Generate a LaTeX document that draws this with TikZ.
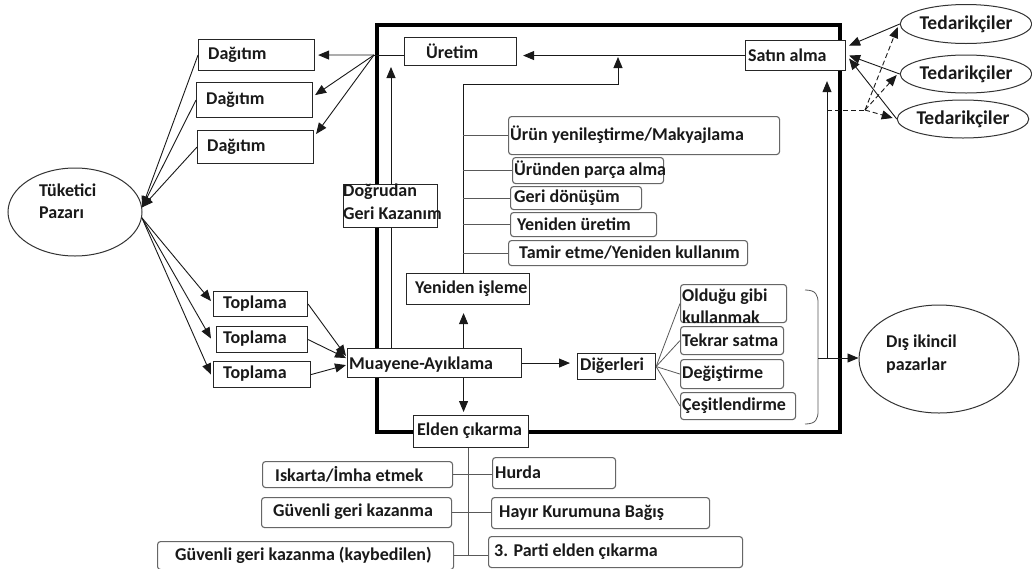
\documentclass[tikz,border=0pt]{standalone}
\usepackage{fontspec}
\setmainfont{Carlito}
\usetikzlibrary{shapes.geometric,arrows.meta,calc}
\pgfdeclarelayer{bg}
\pgfsetlayers{bg,main}
\newcommand\mkbox[9][sqbox]{%
  \pgfmathsetmacro\bxw{#5-#3}%
  \pgfmathsetmacro\bxh{#6-#4}%
  \pgfmathsetmacro\bxm{(#4+#6)/2+#8}%
  \pgfmathsetmacro\bxl{#3+#7}%
  \node[#1, anchor=north west, minimum width=\bxw pt, minimum height=\bxh pt] (#2) at (#3,#4) {};
  \node[txt, anchor=west] (#2-t) at (\bxl,\bxm) {#9};}
\newcommand\bigtxt{\fontsize{19.5}{23}\selectfont}
\tikzset{
  tfont/.style={font=\fontsize{18}{22.5}\selectfont\bfseries, text=black!90},
  sqbox/.style={draw=black!85, line width=1.1pt, fill=white, inner sep=0pt},
  rdbox/.style={draw=black!60, line width=1.1pt, fill=white, rounded corners=3pt, inner sep=0pt},
  txt/.style={tfont, inner sep=0pt, align=left},
  conn/.style={line width=0.9pt, draw=black!90},
  arr/.style={conn, -{Triangle[length=11pt,width=9pt]}},
  treeline/.style={line width=0.8pt, draw=black!65},
  oval/.style={ellipse, draw=black!80, line width=1pt, fill=white, inner sep=0pt},
  outerframe/.style={line width=3.2pt, draw=black},
}
\begin{document}
\begin{tikzpicture}[x=1pt,y=-1pt]
\useasboundingbox (0,0) rectangle (1032,568);
% boxes
\mkbox{dag1}{198}{39}{314}{70}{10}{0}{Dağıtım}
\mkbox{dag2}{196}{82}{312}{117}{10}{0}{Dağıtım}
\mkbox{dag3}{197}{130}{313}{163}{10}{0}{Dağıtım}
\mkbox{top1}{213}{291}{307}{316}{10}{0}{Toplama}
\mkbox{top2}{216}{326}{307}{352}{7}{0}{Toplama}
\mkbox{top3}{213}{361}{310}{387}{10}{0}{Toplama}
\mkbox{uretim}{404}{37}{516}{65}{22}{0}{Üretim}
\mkbox{satin}{745}{40}{845}{70}{3}{0}{Satın alma}
\mkbox{dogrudan}{343}{184}{437}{227}{0}{-4}{Doğrudan\\Geri Kazanım}
\mkbox{yenisleme}{406}{273}{529}{304}{9}{0}{Yeniden işleme}
\mkbox{muayene}{347}{348}{521}{377}{2}{2}{Muayene-Ayıklama}
\mkbox{elden}{413}{415}{528}{447}{4}{0}{Elden çıkarma}
\mkbox{diger}{577}{353}{655}{379}{3}{0}{Diğerleri}
\mkbox[rdbox]{p1}{508}{116}{779}{154}{2}{0}{Ürün yenileştirme/Makyajlama}
\mkbox[rdbox]{p2}{512}{157}{663}{183}{2}{0}{Üründen parça alma}
\mkbox[rdbox]{p3}{510}{186}{641}{209}{4}{0}{Geri dönüşüm}
\mkbox[rdbox]{p4}{510}{212}{656}{236}{7}{0}{Yeniden üretim}
\mkbox[rdbox]{p5}{508}{240}{747}{265}{11}{0}{Tamir etme/Yeniden kullanım}
\mkbox[rdbox]{o1}{680}{284}{786}{322}{2}{3}{Olduğu gibi\\kullanmak}
\mkbox[rdbox]{o2}{680}{326}{783}{354}{2}{0}{Tekrar satma}
\mkbox[rdbox]{o3}{680}{359}{783}{388}{2}{0}{Değiştirme}
\mkbox[rdbox]{o4}{680}{392}{795}{419}{2}{0}{Çeşitlendirme}
\mkbox[rdbox]{d1}{262}{461}{452}{487}{13}{0}{Iskarta/İmha etmek}
\mkbox[rdbox]{d2}{261}{497}{451}{527}{12}{0}{Güvenli geri kazanma}
\mkbox[rdbox]{d3}{157}{541}{453}{569}{18}{0}{Güvenli geri kazanma (kaybedilen)}
\mkbox[rdbox]{h1}{492}{457}{615}{488}{3}{0}{Hurda}
\mkbox[rdbox]{h2}{491}{497}{709}{528}{8}{0}{Hayır Kurumuna Bağış}
\mkbox[rdbox]{h3}{488}{536}{742}{567}{6}{0}{3. Parti elden çıkarma}
% ellipses
\node[oval, minimum width=134pt, minimum height=88pt] (tuk) at (75,212) {};
\node[txt, anchor=west] (tuk-t) at (39,201) {Tüketici\\Pazarı};
\node[oval, tfont, minimum width=128pt, minimum height=39pt] (ted1) at (966,24) {\bigtxt Tedarikçiler};
\node[oval, tfont, minimum width=128pt, minimum height=38pt] (ted2) at (966,74) {\bigtxt Tedarikçiler};
\node[oval, tfont, minimum width=128pt, minimum height=38pt] (ted3) at (963,119) {\bigtxt Tedarikçiler};
\node[oval, minimum width=160pt, minimum height=108pt] (dis) at (939,359) {};
\node[txt, anchor=west] (dis-t) at (886,354) {Dış ikincil\\pazarlar};
% background layer: frame and direct recovery arrow
\coordinate (dtop) at (391,67);
\begin{pgfonlayer}{bg}
\fill[white] (0,0) rectangle (1032,568);
\draw[outerframe] (377,25) rectangle (840,432);
\draw[arr] (muayene.north -| dtop) -- (dtop);
\end{pgfonlayer}
% production to distribution
\coordinate (j1) at (374,55);
\draw[conn] (uretim.west |- j1) -- (j1);
\draw[arr] (j1) -- ($(dag1.east)+(3,0)$);
\draw[arr] (j1) -- ($(dag2.east)+(2,-5)$);
\draw[arr] (j1) -- ($(dag3.north east)+(2,4)$);
\foreach \d in {dag1,dag2,dag3} \draw[arr] (\d.west) -- (tuk.4);
\draw[arr] (tuk.-5) -- ($(top1.west)+(-2,-3)$);
\draw[arr] (tuk.-5) -- ($(top2.west)+(-5,-1)$);
\draw[arr] (tuk.-5) -- ($(top3.west)+(-2,0)$);
\draw[arr] (top1.east) -- ($(muayene.west)+(-1,-7)$);
\draw[arr] (top2.east) -- ($(muayene.west)+(-1,-5)$);
\draw[arr] (top3.east) -- ($(muayene.west)+(-1,2)$);
\draw[arr] ($(yenisleme.south |- muayene.north)+(-4.5,0)$) -- ($(yenisleme.south)+(-4.5,8)$);
\draw[arr] ($(elden.north |- muayene.south)+(-7.5,0)$) -- ($(elden.north)+(-7.5,-3)$);
\draw[arr] (muayene.east) -- ($(muayene.east -| diger.west)+(-7,0)$);
% reprocessing tree
\coordinate (ytop) at (463,84);
\coordinate (ycor) at (618,84);
\coordinate (ytip) at (618,57);
\draw[arr] (yenisleme.north -| ytop) -- (ytop) -- (ycor) -- (ytip);
\foreach \p in {p1,p2,p3,p4,p5} \draw[treeline] (\p.west -| ytop) -- (\p.west);
\draw[arr] (satin.west) -- ($(satin.west -| uretim.east)+(6,0)$);
% suppliers
\draw[arr] (ted1.west) -- ($(satin.east)+(3,-10)$);
\draw[arr] (ted2.west) -- ($(satin.east)+(3,0)$);
\draw[arr] (ted3.west) -- ($(satin.east)+(3,3)$);
\coordinate (vbot) at (827,358);
\draw[arr] (vbot) -- ($(vbot |- satin.south)+(0,10)$);
\coordinate (dj) at (865,110);
\draw[conn, dash pattern=on 5pt off 3pt] (vbot |- dj) -- (dj);
\draw[arr, dash pattern=on 5pt off 3pt] (dj) -- ($(ted1.west)+(-2,3)$);
\draw[arr, dash pattern=on 5pt off 3pt] (dj) -- ($(ted2.west)+(-3,1)$);
\draw[arr, dash pattern=on 5pt off 3pt] (dj) -- ($(ted3.west)+(-4,-1)$);
% others
\foreach \o in {o1,o2,o3,o4} \draw[treeline] (diger.east) -- (\o.west);
\draw[treeline] (805,290) .. controls (816,290) and (818,295) .. (818,303) -- (818,411) .. controls (818,419) and (816,424) .. (805,424);
\coordinate (bmid) at (818,358);
\draw[arr] (bmid) -- (bmid -| dis.west);
% disposal tree
\coordinate (ebot) at (468,555);
\draw[treeline] (elden.south -| ebot) -- (ebot);
\draw[treeline] (d1.east) -- (d1.east -| h1.west);
\draw[treeline] (d2.east) -- (d2.east -| h2.west);
\draw[treeline] (d3.east) -- (d3.east -| h3.west);
\end{tikzpicture}
\end{document}
